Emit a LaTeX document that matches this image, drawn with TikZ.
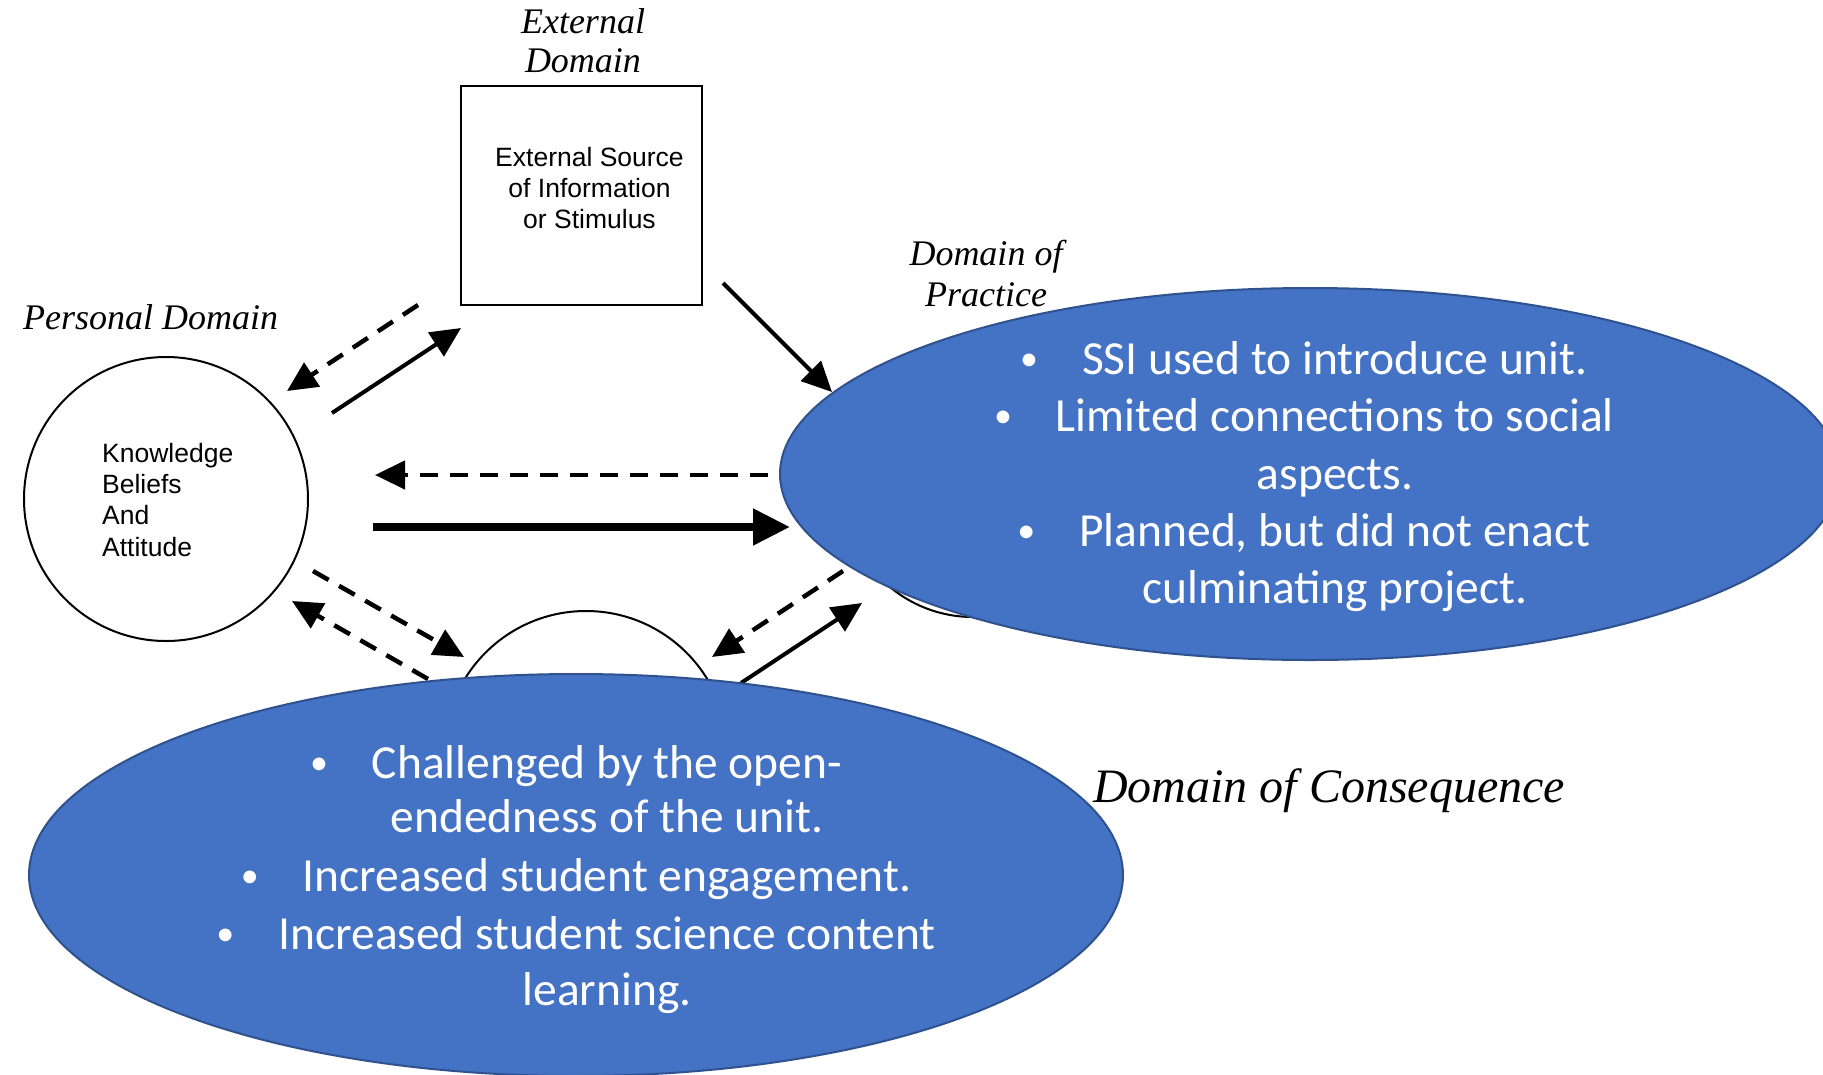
\documentclass[tikz,border=0pt]{standalone}
\usepackage{fontspec}
\setmainfont{Liberation Serif}
\newfontfamily\slidefont{Carlito}
\newfontfamily\figfont{Liberation Sans}
\usetikzlibrary{arrows.meta,shapes.geometric}
\definecolor{blobfill}{HTML}{4472C4}
\definecolor{blobedge}{HTML}{2F528F}
% hanging bullet placed left of a centred line
\newcommand{\hangbullet}{\llap{{\fontsize{36}{36}\selectfont\raisebox{4pt}{•}}\hspace{44pt}}}
\begin{document}
\begin{tikzpicture}[x=1pt,y=-1pt,
  blob/.style={ellipse, fill=blobfill, draw=blobedge, line width=2pt, inner sep=0pt},
  ring/.style={circle, draw, line width=2pt, minimum size=284pt, inner sep=0pt},
  srcbox/.style={draw, line width=2.5pt, inner sep=0pt, minimum width=241pt, minimum height=219pt},
  domlabel/.style={font=\fontsize{36}{40}\selectfont\itshape, inner sep=0pt},
  figtext/.style={font=\figfont\fontsize{26.5}{31}\selectfont, inner sep=0pt},
  bullettext/.style={font=\slidefont\fontsize{47.5}{57}\selectfont, text=white, inner sep=0pt, anchor=base},
  solidarrow/.style={line width=4pt, -{Triangle[length=30pt,width=28pt]}},
  dasharrow/.style={line width=4.5pt, dash pattern=on 18pt off 12pt, -{Triangle[length=30pt,width=28pt]}},
  thickarrow/.style={line width=8pt, -{Triangle[length=37pt,width=35pt]}},
]
\clip (0,0) rectangle (1823,1074);
\fill[white] (0,0) rectangle (1823,1074);

% arrow end points
\coordinate (a1s) at (418,305);  \coordinate (a1e) at (287,391);
\coordinate (a2s) at (332,413);  \coordinate (a2e) at (461,328);
\coordinate (a3s) at (723,283);  \coordinate (a3e) at (832,392);
\coordinate (a4s) at (768,475);  \coordinate (a4e) at (375,475);
\coordinate (a5s) at (373,527);  \coordinate (a5e) at (790,527);
\coordinate (a6s) at (313,571);  \coordinate (a6e) at (464,657);
\coordinate (a7s) at (428,679);  \coordinate (a7e) at (292,601);
\coordinate (a8s) at (843,571);  \coordinate (a8e) at (712,657);
\coordinate (a9s) at (741,683);  \coordinate (a9e) at (862,603);

% domains drawn as plain shapes
\node[srcbox] (src) at (581.5,195.5) {};
\node[ring] (personal) at (166,499) {};
\node[ring, minimum size=260pt] (practice) at (973,487) {};
\node[ring] (consequence) at (586,753) {};

% connectors
\draw[dasharrow] (a1s) -- (a1e);
\draw[solidarrow] (a2s) -- (a2e);
\draw[solidarrow] (a3s) -- (a3e);
\draw[dasharrow] (a4s) -- (a4e);
\draw[thickarrow] (a5s) -- (a5e);
\draw[dasharrow] (a6s) -- (a6e);
\draw[dasharrow] (a7s) -- (a7e);
\draw[dasharrow] (a8s) -- (a8e);
\draw[solidarrow] (a9s) -- (a9e);

% texts inside the box and the personal circle
\node[figtext, anchor=base] (src1) at (589.5,166) {External Source};
\node[figtext, anchor=base] (src2) at (589.5,197) {of Information};
\node[figtext, anchor=base] (src3) at (589.5,228) {or Stimulus};
\node[figtext, anchor=base west] (k1) at (102,462) {Knowledge};
\node[figtext, anchor=base west] (k2) at (102,493) {Beliefs};
\node[figtext, anchor=base west] (k3) at (102,524.5) {And};
\node[figtext, anchor=base west] (k4) at (102,556) {Attitude};

% domain labels
\node[domlabel, anchor=base] (ext1) at (583,33.5) {External};
\node[domlabel, anchor=base] (ext2) at (583,72) {Domain};
\node[domlabel, anchor=base west] (pers) at (23,329.5) {Personal Domain};
\node[domlabel, anchor=base] (prac1) at (986,265) {Domain of};
\node[domlabel, anchor=base] (prac2) at (986,306) {Practice};
\node[domlabel, anchor=base west] (cons) at (1093,802) {\fontsize{48}{52}\selectfont Domain of Consequence};

% summary ellipses
\node[blob, minimum width=1060pt, minimum height=372pt] (practiceblob) at (1310,474) {};
\node[blob, minimum width=1094pt, minimum height=402pt] (consequenceblob) at (576,875) {};

\node[bullettext] (p1) at (1335,374) {\hangbullet SSI used to introduce unit.};
\node[bullettext] (p2) at (1335,431.5) {\hangbullet Limited connections to social};
\node[bullettext] (p3) at (1335,489) {aspects.};
\node[bullettext] (p4) at (1335,546) {\hangbullet Planned, but did not enact};
\node[bullettext] (p5) at (1335,603.5) {culminating project.};

\node[bullettext] (c1) at (607,778) {\hangbullet Challenged by the open-};
\node[bullettext] (c2) at (607,832) {endedness of the unit.};
\node[bullettext] (c3) at (607,891) {\hangbullet Increased student engagement.};
\node[bullettext] (c4) at (607,949) {\hangbullet Increased student science content};
\node[bullettext] (c5) at (607,1005) {learning.};
\end{tikzpicture}
\end{document}
